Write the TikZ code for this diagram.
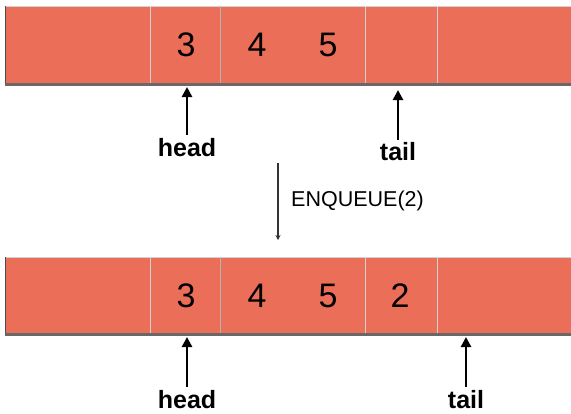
\documentclass[tikz,border=0pt]{standalone}
\usepackage{fontspec}
\setmainfont{Liberation Sans}
\usetikzlibrary{arrows.meta}
\definecolor{barfill}{HTML}{EB6E58}
\definecolor{baredge}{HTML}{686868}
\definecolor{divlight}{HTML}{D2D2D2}
\definecolor{divdark}{HTML}{B4B4B4}
\tikzset{
  digit/.style={inner sep=0pt, font=\fontsize{34}{34}\selectfont},
  ptr/.style={inner sep=0pt, font=\fontsize{25}{25}\selectfont\bfseries},
  ptrarrow/.style={line width=2.8pt, -{Triangle[width=10pt,length=10pt]}},
  oparrow/.style={line width=1.3pt, draw=black!80, -{Stealth[width=5pt,length=5pt]}},
  oplabel/.style={inner sep=0pt, anchor=west, font=\fontsize{21.5}{21.5}\selectfont},
}
\begin{document}
\begin{tikzpicture}[x=1pt,y=-1pt]
\useasboundingbox (0,0) rectangle (571,413);
% ---- top queue ----
\fill[barfill] (5,6) rectangle (571,83);
\draw[divlight, line width=0.6pt] (5,6) -- (571,6);
\draw[black!70, line width=1pt] (5.5,6) -- (5.5,83);
\draw[divlight, line width=1pt] (150,6) -- (150,83);
\draw[divdark, line width=1.8pt] (220.5,6) -- (220.5,83);
\draw[divlight, line width=1pt] (365,6) -- (365,83);
\draw[divlight, line width=1pt] (437,6) -- (437,83);
\draw[baredge, line width=3pt] (5,84.5) -- (571,84.5);
\node[digit] (t3) at (186,45) {3};
\node[digit] (t4) at (257,45) {4};
\node[digit] (t5) at (328,45) {5};
\coordinate (thc) at (187,87);
\coordinate (ttc) at (398,90);
\node[ptr] (thead) at (187,148) {head};
\node[ptr] (ttail) at (398,152) {tail};
\draw[ptrarrow] (thead.north) ++(0,-4) -- (thc);
\draw[ptrarrow] (ttail.north) ++(0,-3) -- (ttc);
% ---- operation ----
\coordinate (opa) at (278,163);
\coordinate (opb) at (278,240);
\draw[oparrow] (opa) -- (opb);
\node[oplabel] (op) at (291,201) {ENQUEUE(2)};
% ---- bottom queue ----
\fill[barfill] (5,257) rectangle (571,333);
\draw[divlight, line width=0.6pt] (5,257) -- (571,257);
\draw[black!70, line width=1pt] (5.5,257) -- (5.5,333);
\draw[divlight, line width=1pt] (150,257) -- (150,333);
\draw[divdark, line width=1.8pt] (220.5,257) -- (220.5,333);
\draw[divlight, line width=1pt] (365,257) -- (365,333);
\draw[divlight, line width=1pt] (437,257) -- (437,333);
\draw[baredge, line width=3pt] (5,334.5) -- (571,334.5);
\node[digit] (b3) at (186,296) {3};
\node[digit] (b4) at (257,296) {4};
\node[digit] (b5) at (328,296) {5};
\node[digit] (b2) at (400,296) {2};
\coordinate (bhc) at (187,337);
\coordinate (btc) at (466,337);
\node[ptr] (bhead) at (187,400) {head};
\node[ptr] (btail) at (466,400) {tail};
\draw[ptrarrow] (bhead.north) ++(0,-4) -- (bhc);
\draw[ptrarrow] (btail.north) ++(0,-4) -- (btc);
\end{tikzpicture}
\end{document}
